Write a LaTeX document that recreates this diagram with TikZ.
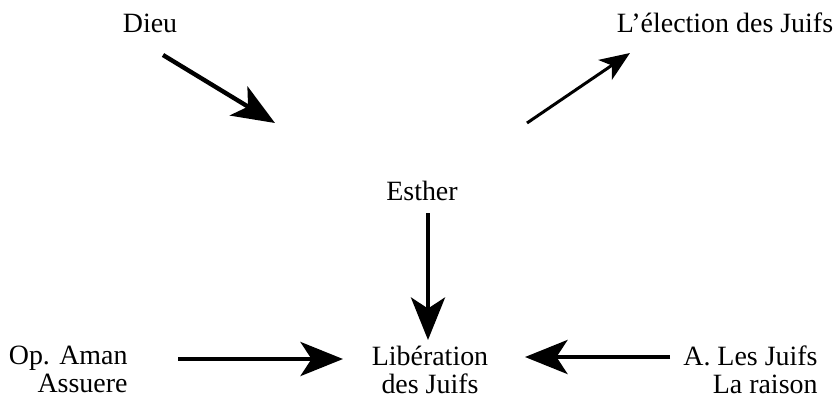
\documentclass[tikz,border=0pt]{standalone}
\usepackage{fontspec}
\setmainfont{Liberation Serif}
\usetikzlibrary{arrows.meta}

\begin{document}
\begin{tikzpicture}[x=.02cm, y=-.02cm, line width=.5pt, font=\fontsize{15.9}{15.9}\selectfont,
    word/.style={inner sep=0pt},
    bigarrow/.style={-{Stealth[length=.85cm, width=.68cm, inset=.22cm]}, line width=2.5pt},
    smallarrow/.style={-{Stealth[length=.6cm, width=.48cm, inset=.16cm]}, line width=1.7pt}]
    \useasboundingbox (0, 0) rectangle (838, 400);

    % draw words
    \node[word, anchor=base] (dieu) at (150, 32) {Dieu};
    \node[word, anchor=base] (election) at (725, 32) {L'élection des Juifs};
    \node[word, anchor=base] (esther) at (422, 200) {Esther};
    \node[word, anchor=base, align=center] (liberation) at (430, 393) {Libération\\des Juifs};
    \node[word, anchor=base east, align=right] (aman) at (128, 392) {Op. Aman\\Assuere};
    \node[word, anchor=base east, align=right] (juifs) at (818, 393) {A. Les Juifs\\La raison};

    % arrow ends
    \coordinate (dieu-out) at (163, 55);
    \coordinate (esther-in) at (275, 123);
    \coordinate (esther-up) at (527, 123);
    \coordinate (election-in) at (630, 53);
    \coordinate (esther-down) at (428, 213);
    \coordinate (liberation-top) at (428, 340);
    \coordinate (aman-out) at (178, 359);
    \coordinate (liberation-left) at (343, 359);
    \coordinate (juifs-out) at (670, 357);
    \coordinate (liberation-right) at (525, 357);

    % draw arrows
    \draw[bigarrow] (dieu-out) -- (esther-in);
    \draw[smallarrow] (esther-up) -- (election-in);
    \draw[bigarrow] (esther-down) -- (liberation-top);
    \draw[bigarrow] (aman-out) -- (liberation-left);
    \draw[bigarrow] (juifs-out) -- (liberation-right);
\end{tikzpicture}
\end{document}
